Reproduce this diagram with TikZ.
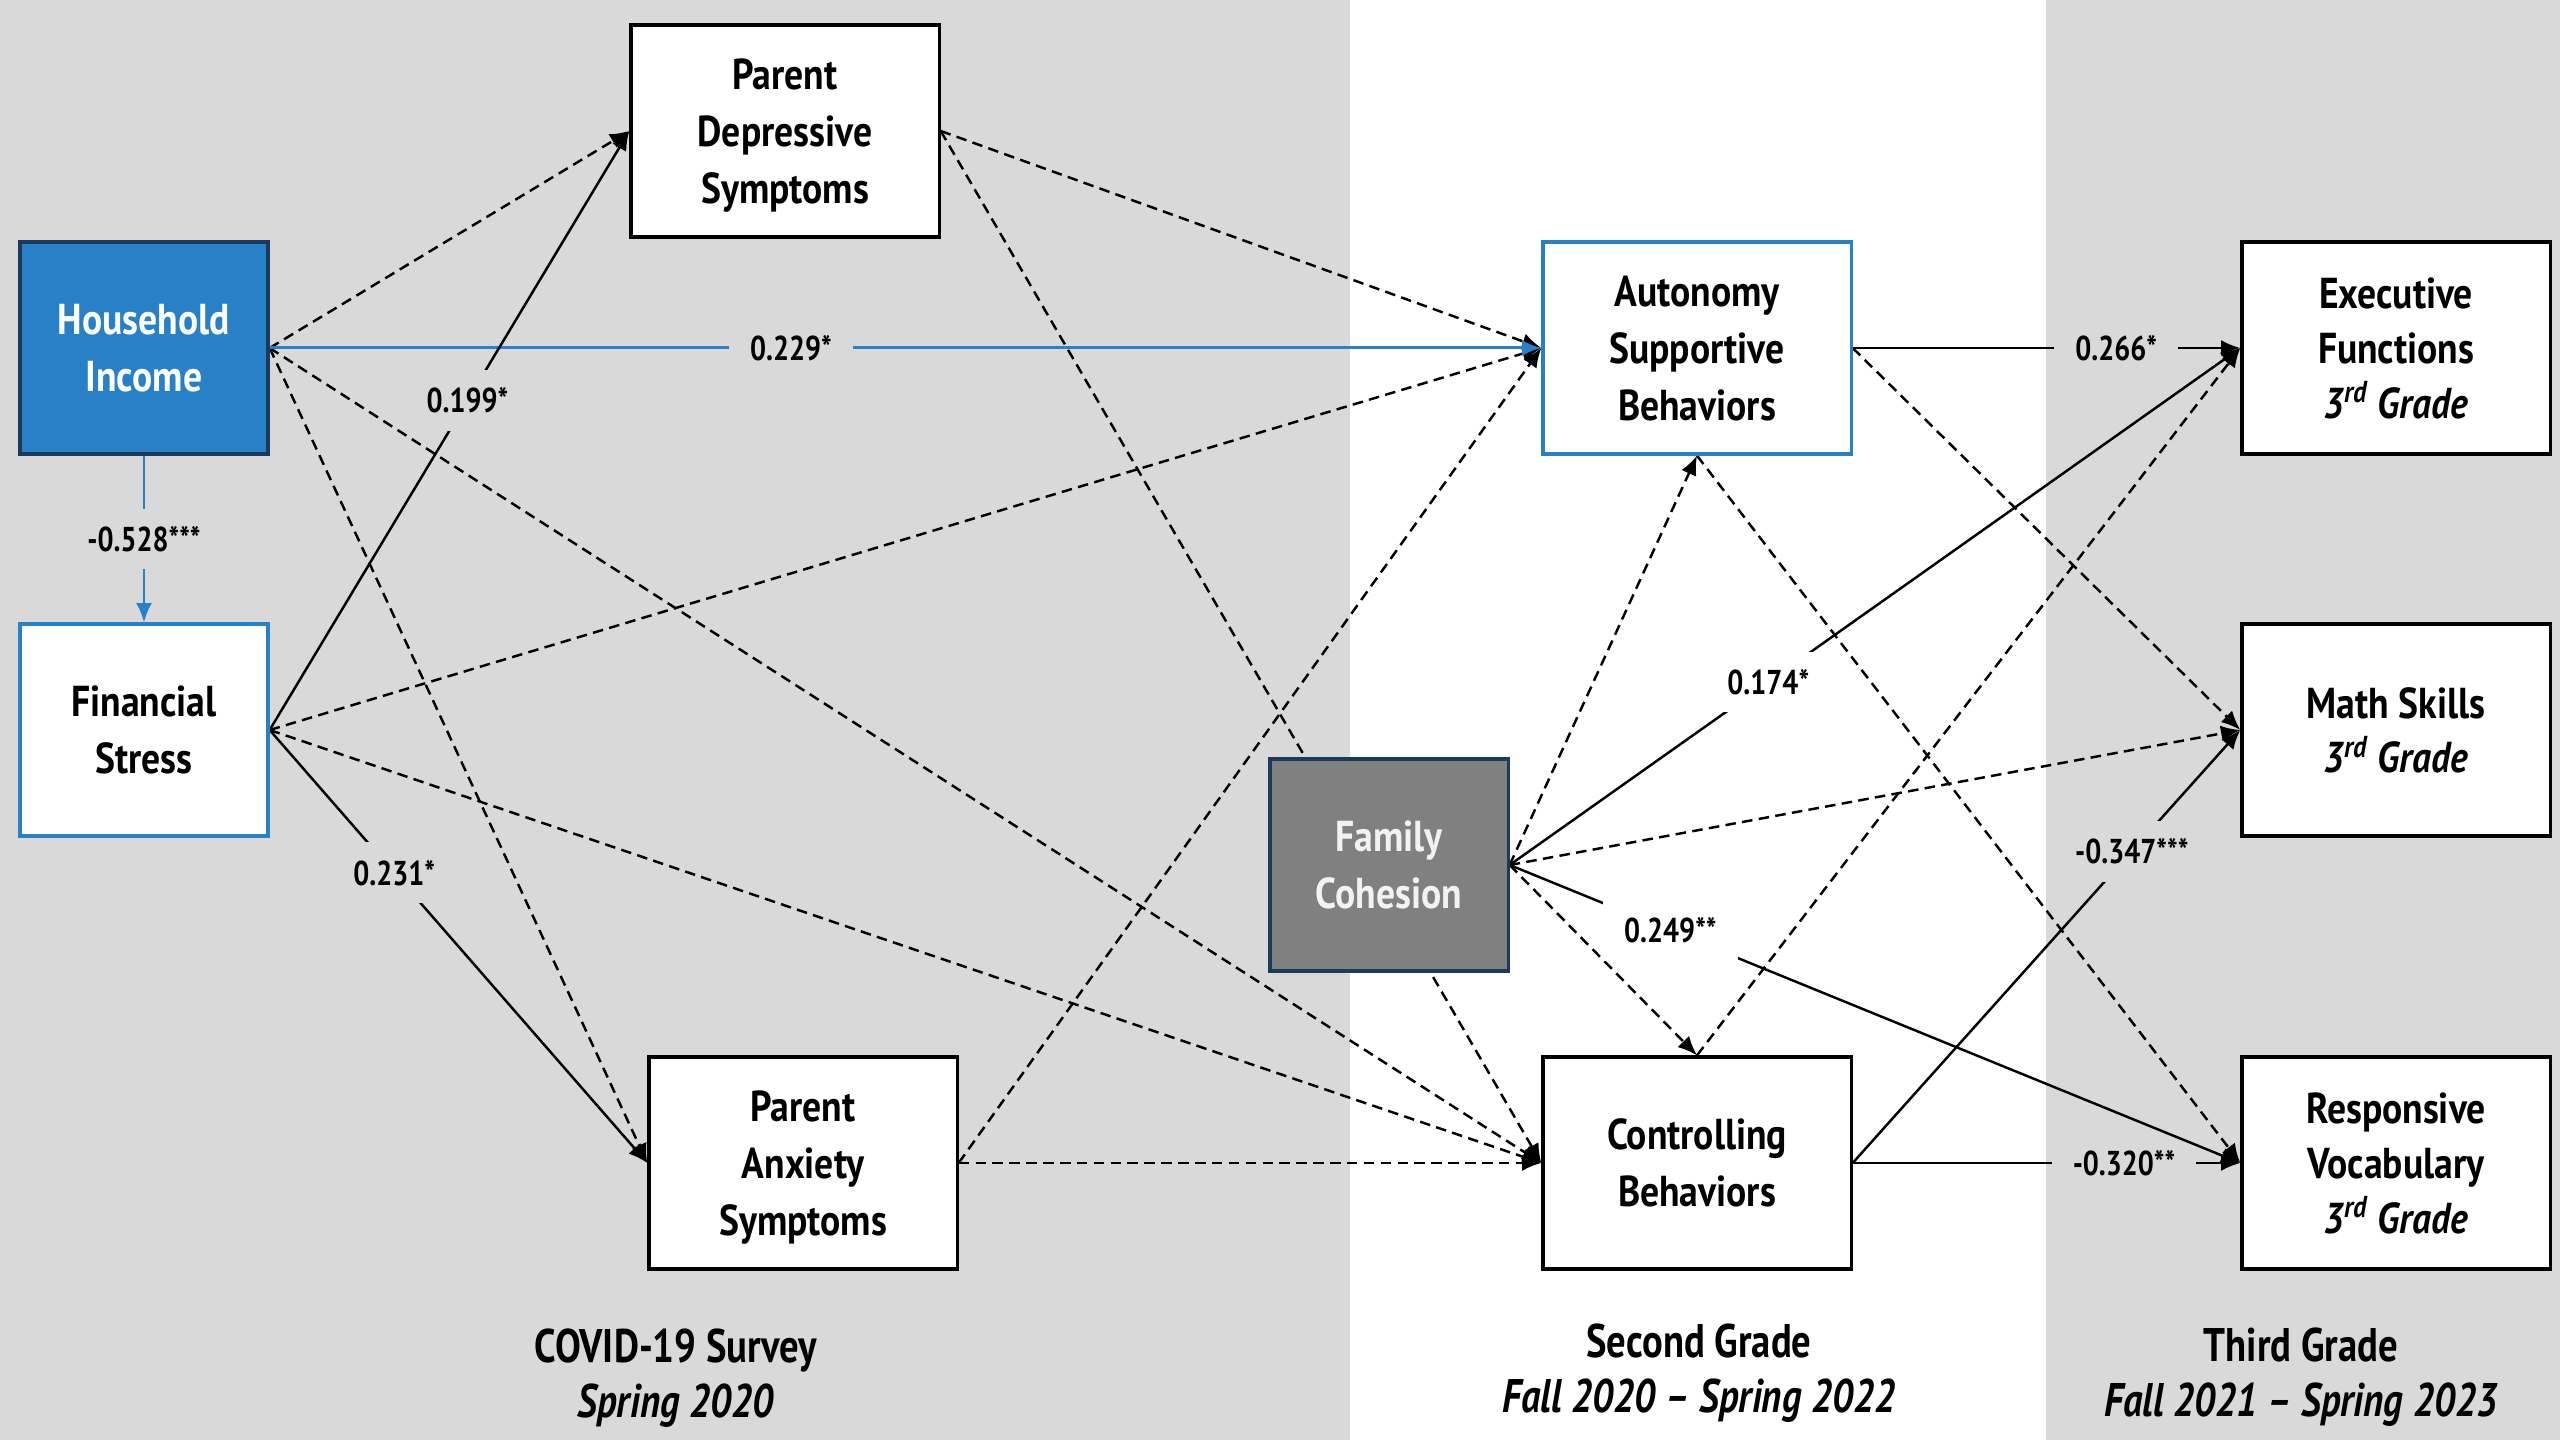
\documentclass[tikz,border=0pt]{standalone}
\usepackage{fontspec}
\setmainfont{PT Sans}
\newfontfamily\boxfont{PT Sans}[FakeStretch=0.87, Ligatures=TeX]
\newfontfamily\periodfont{PT Sans}[FakeStretch=0.82, Ligatures=TeX]
\usepackage{tikz}
\usetikzlibrary{arrows.meta}

\definecolor{bggray}{RGB}{217,217,217}
\definecolor{hiblue}{RGB}{40,129,198}
\definecolor{navy}{RGB}{27,58,92}
\definecolor{fcgray}{RGB}{128,128,128}

\pgfdeclarelayer{back}
\pgfdeclarelayer{links}
\pgfsetlayers{back,links,main}

\tikzset{
  box/.style={draw=black, line width=0.9pt, fill=white, minimum width=3.08cm, minimum height=2.12cm,
    align=center, inner sep=2pt, text depth=0pt, font=\boxfont\bfseries\fontsize{12.3}{16.2}\selectfont},
  gradebox/.style={box, font=\boxfont\bfseries\fontsize{12.3}{15.6}\selectfont},
  sig/.style={line width=0.7pt, -{Latex[length=5.5pt,width=4.6pt]}},
  ns/.style={sig, dash pattern=on 3pt off 1.8pt},
  bluesig/.style={sig, line width=0.85pt, draw=hiblue},
  coef/.style={font=\periodfont\bfseries\fontsize{9.8}{11}\selectfont, fill=bggray, inner xsep=6pt, inner ysep=5pt},
  period/.style={align=center, font=\periodfont\bfseries\fontsize{13.4}{15.8}\selectfont}
}

\begin{document}
\begin{tikzpicture}[x=0.01cm, y=-0.01cm]
    \useasboundingbox (0,0) rectangle (2560,1440);

    % Waves
    \begin{pgfonlayer}{back}
        \fill[bggray] (0,0) rectangle (1350,1440);
        \fill[white] (1350,0) rectangle (2046,1440);
        \fill[bggray] (2046,0) rectangle (2560,1440);
    \end{pgfonlayer}

    % COVID-19 survey
    \node[box, fill=hiblue, draw=navy, text=white, minimum width=2.48cm] (income) at (144,348) {Household\\Income};
    \node[box, draw=hiblue, minimum width=2.48cm] (stress) at (144,730) {Financial\\Stress};
    \node[box] (depress) at (785,131) {Parent\\Depressive\\Symptoms};
    \node[box] (anxiety) at (803,1163) {Parent\\Anxiety\\Symptoms};

    % Second grade
    \node[box, draw=hiblue] (autonomy) at (1697,348) {Autonomy\\Supportive\\Behaviors};
    \node[box, fill=fcgray, draw=navy, text=white!95!black, minimum width=2.38cm] (cohesion) at (1389,865) {Family\\Cohesion};
    \node[box] (control) at (1697,1163) {Controlling\\Behaviors};

    % Third grade
    \node[gradebox] (exec) at (2396,348) {Executive\\Functions\\\textit{3\textsuperscript{rd} Grade}};
    \node[gradebox] (math) at (2396,730) {Math Skills\\\textit{3\textsuperscript{rd} Grade}};
    \node[gradebox] (vocab) at (2396,1163) {Responsive\\Vocabulary\\\textit{3\textsuperscript{rd} Grade}};

    % Paths
    \begin{pgfonlayer}{links}
        \draw[ns] (income.east) -- (depress.west);
        \draw[ns] (income.east) -- (anxiety.west);
        \draw[ns] (income.east) -- (control.west);
        \draw[ns] (stress.east) -- (autonomy.west);
        \draw[ns] (stress.east) -- (control.west);
        \draw[ns] (depress.east) -- (autonomy.west);
        \draw[ns] (depress.east) -- (control.west);
        \draw[ns] (anxiety.east) -- (autonomy.west);
        \draw[ns] (anxiety.east) -- (control.west);
        \draw[bluesig] (income.east) -- node[coef, pos=0.41] {0.229*} (autonomy.west);
        \draw[bluesig] (income.south) -- node[coef] {-0.528***} (stress.north);
        \draw[sig] (stress.east) -- node[coef, pos=0.55] {0.199*} (depress.west);
        \draw[sig] (stress.east) -- node[coef, pos=0.33] {0.231*} (anxiety.west);

        \draw[ns] (cohesion.east) -- (autonomy.south);
        \draw[ns] (cohesion.east) -- (control.north);
        \draw[ns] (cohesion.east) -- (math.west);
        \draw[ns] (autonomy.east) -- (math.west);
        \draw[ns] (autonomy.south) -- (vocab.west);
        \draw[ns] (control.north) -- (exec.west);
        \draw[sig] (cohesion.east) -- node[coef, fill=white, pos=0.354] {0.174*} (exec.west);
        \draw[sig] (autonomy.east) -- node[coef, pos=0.68] {0.266*} (exec.west);
        \draw[sig] (control.east) -- node[coef, pos=0.72] {-0.347***} (math.west);
        \draw[sig] (control.east) -- node[coef, pos=0.70] {-0.320**} (vocab.west);
        \draw[sig] (cohesion.east) -- node[coef, fill=white, pos=0.22] {0.249**} (vocab.west);
    \end{pgfonlayer}

    % Time points
    \node[period] (survey) at (676,1378) {COVID-19 Survey\\\textit{Spring 2020}};
    \node[period] (second) at (1699,1373) {Second Grade\\\textit{Fall 2020 \textendash{} Spring 2022}};
    \node[period] (third) at (2301,1377) {Third Grade\\\textit{Fall 2021 \textendash{} Spring 2023}};
\end{tikzpicture}
\end{document}
